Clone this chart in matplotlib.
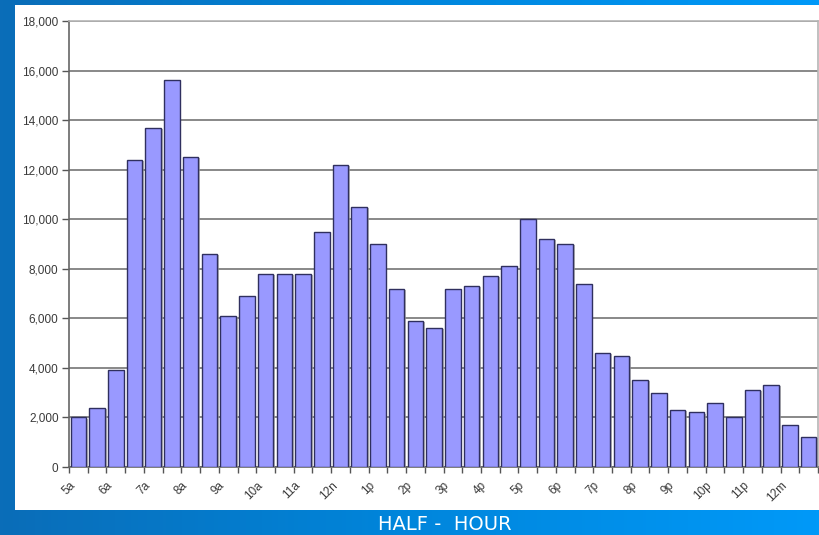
import numpy as np
import matplotlib
matplotlib.use("Agg")
import matplotlib.pyplot as plt
import matplotlib.patheffects as pe
from matplotlib.ticker import FuncFormatter, MultipleLocator
from matplotlib.colors import LinearSegmentedColormap

hour_labels = ["5a", "6a", "7a", "8a", "9a", "10a", "11a", "12n", "1p", "2p",
               "3p", "4p", "5p", "6p", "7p", "8p", "9p", "10p", "11p", "12m"]
counts = [2000, 2400, 3900, 12400, 13700, 15600, 12500, 8600, 6100, 6900,
          7800, 7800, 7800, 9500, 12200, 10500, 9000, 7200, 5900, 5600,
          7200, 7300, 7700, 8100, 10000, 9200, 9000, 7400, 4600, 4500,
          3500, 3000, 2300, 2200, 2600, 2000, 3100, 3300, 1700, 1200]
x_title = "HALF -  HOUR"

W, H = 819, 535
fig = plt.figure(figsize=(W / 100, H / 100), dpi=100)

# background gradient
bg = fig.add_axes([0, 0, 1, 1])
bg.set_axis_off()
grad = np.linspace(0, 1, 256)[None, :]
cmap = LinearSegmentedColormap.from_list("bgblue", ["#0a6db8", "#0086dc", "#0099f8"])
bg.imshow(grad, aspect="auto", cmap=cmap, extent=[0, 1, 0, 1])
bg.set_xlim(0, 1)
bg.set_ylim(0, 1)
# white panel
bg.add_patch(plt.Rectangle((15 / W, 1 - 510 / H), (W - 15) / W, (510 - 5) / H,
                           facecolor="white", edgecolor="none"))
bg.text(445 / W, 1 - 524 / H, x_title, color="white", fontsize=14,
        family="DejaVu Sans", ha="center", va="center")

ax = fig.add_axes([69 / W, 1 - 467 / H, (818 - 69) / W, (467 - 21) / H])
ax.set_facecolor("white")
pos = np.arange(len(counts))
bars = ax.bar(pos, counts, width=0.83, color="#9999ff", edgecolor="#2f2f5f",
              linewidth=1.0, zorder=3)
for b in bars:
    b.set_path_effects([pe.SimplePatchShadow(offset=(1.2, -0.8), shadow_rgbFace="#9a9a9a", alpha=0.7),
                        pe.Normal()])

ax.set_xlim(-0.5, len(counts) - 0.5)
ax.set_ylim(0, 18000)
ax.yaxis.set_major_locator(MultipleLocator(2000))
ax.yaxis.set_major_formatter(FuncFormatter(lambda v, p: f"{int(v):,}"))
ax.grid(axis="y", color="#7f7f7f", linewidth=1.3, zorder=0)

ax.set_xticks(np.arange(len(hour_labels)) * 2 - 0.5)
ax.set_xticklabels(hour_labels, rotation=45, ha="right", va="top",
                   rotation_mode="anchor")
ax.set_xticks(np.arange(len(counts) + 1) - 0.5, minor=True)
ax.tick_params(axis="x", which="both", direction="out", length=4, width=1,
               color="#555555", labelsize=8.5, labelcolor="#3a3a3a", pad=5)
ax.tick_params(axis="y", direction="out", length=5, width=1, color="#555555",
               labelsize=8.5, labelcolor="#3a3a3a", pad=2.5)
for lab in ax.get_xticklabels() + ax.get_yticklabels():
    lab.set_family("Liberation Sans")

for s in ["left", "bottom"]:
    ax.spines[s].set_color("#666666")
    ax.spines[s].set_linewidth(1.2)
for s in ["top", "right"]:
    ax.spines[s].set_color("#b5b5b5")
    ax.spines[s].set_linewidth(1.2)

fig.savefig("out.png", dpi=100)
